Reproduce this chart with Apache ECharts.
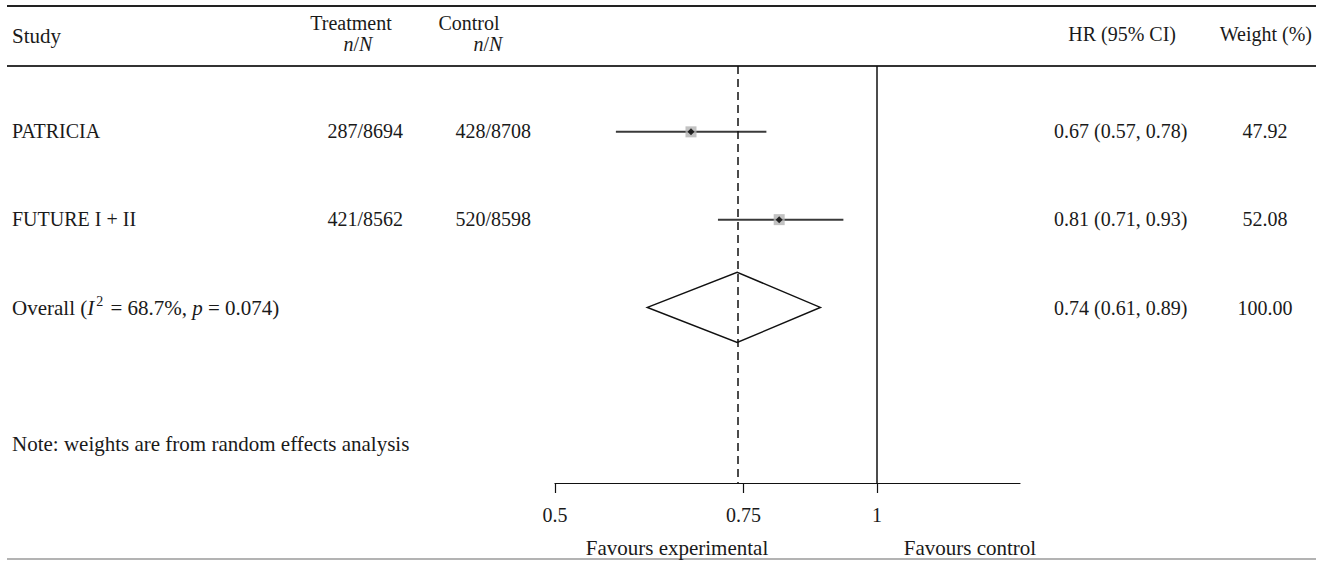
<!DOCTYPE html>
<html>
<head>
<meta charset="utf-8">
<script src="https://cdn.jsdelivr.net/npm/echarts@6/dist/echarts.min.js"></script>
<style>
html,body{margin:0;padding:0;background:#fff;}
#main{width:1324px;height:563px;}
</style>
</head>
<body>
<div id="main"></div>
<script>
// study rows
var studies = ['PATRICIA', 'FUTURE I + II'];
var treatment = ['287/8694', '421/8562'];
var control = ['428/8708', '520/8598'];
var hr = [0.67, 0.81];
var lower = [0.57, 0.71];
var upper = [0.788, 0.93];
var hrLabels = ['0.67 (0.57, 0.78)', '0.81 (0.71, 0.93)'];
var weights = ['47.92', '52.08'];
var rowPos = [1, 2];

// overall (random effects)
var overallLabel = 'Overall';
var overallStats = ['68.7%', '0.074'];
var overallHR = 0.74;
var overallLower = 0.61;
var overallUpper = 0.885;
var overallHRLabel = '0.74 (0.61, 0.89)';
var overallWeight = '100.00';
var overallPos = 3;

var xTicks = [0.5, 0.75, 1];
var xMin = 0.5, xMax = 1.36;
var nullValue = 1;

var FONT = "'Liberation Serif', 'DejaVu Serif', serif";
var FS = 20;
var FSW = 21; // word text runs a bit wider in the original
var INK = '#1a1a1a';

var dom = document.getElementById('main');
var myChart = echarts.init(dom, null, {renderer: 'svg'});

function ln(v) { return Math.log(v); }

function txt(x, y, s, align, extra) {
	var st = {text: s, x: 0, y: 0, fill: INK, fontFamily: FONT, fontSize: FS,
		align: align || 'left', verticalAlign: 'middle'};
	if (extra) { for (var k in extra) st[k] = extra[k]; }
	return {type: 'text', x: x, y: y, silent: true, style: st};
}

function hline(y, x1, x2, color, w) {
	return {type: 'line', silent: true, shape: {x1: x1, y1: y, x2: x2, y2: y},
		style: {stroke: color, lineWidth: w}};
}

var italicRich = {
	n: {fontFamily: FONT, fontSize: FS, fill: INK},
	i: {fontFamily: FONT, fontSize: FS, fill: INK, fontStyle: 'italic'}
};
var overallRich = {
	n: {fontFamily: FONT, fontSize: FSW, fill: INK},
	i: {fontFamily: FONT, fontSize: FSW, fill: INK, fontStyle: 'italic'},
	sup: {fontFamily: FONT, fontSize: 14, fill: INK, padding: [0, 2, 14, 2]}
};

var graphics = [
	hline(6, 7, 1316, '#222', 2),
	hline(66, 7, 1316, '#333', 2),
	hline(559, 7, 1316, '#9a9a9a', 1.5),
	txt(12, 36, 'Study', 'left', {fontSize: FSW}),
	txt(351, 23, 'Treatment', 'center'),
	txt(358, 44, '{i|n}{n|/}{i|N}', 'center', {rich: italicRich}),
	txt(469, 23, 'Control', 'center'),
	txt(488, 44, '{i|n}{n|/}{i|N}', 'center', {rich: italicRich}),
	txt(1176, 34, 'HR (95% CI)', 'right'),
	txt(1312, 34, 'Weight (%)', 'right'),
	txt(12, 444, 'Note: weights are from random effects analysis', 'left', {fontSize: FSW}),
	txt(677, 548, 'Favours experimental', 'center', {fontSize: FSW}),
	txt(970, 548, 'Favours control', 'center', {fontSize: FSW})
];

var rowY = [131, 219];
for (var i = 0; i < studies.length; i++) {
	graphics.push(txt(12, rowY[i], studies[i]));
	graphics.push(txt(403, rowY[i], treatment[i], 'right'));
	graphics.push(txt(531, rowY[i], control[i], 'right'));
	graphics.push(txt(1054, rowY[i], hrLabels[i]));
	graphics.push(txt(1265, rowY[i], weights[i], 'center'));
}
graphics.push(txt(12, 308, '{n|' + overallLabel + ' (}{i|I}{sup|2}{n| = ' + overallStats[0] + ', }{i|p}{n| = ' + overallStats[1] + ')}', 'left', {rich: overallRich}));
graphics.push(txt(1054, 308, overallHRLabel));
graphics.push(txt(1265, 308, overallWeight, 'center'));

var ciData = [];
var pointData = [];
for (var j = 0; j < studies.length; j++) {
	ciData.push([ln(lower[j]), ln(upper[j]), rowPos[j]]);
	pointData.push([ln(hr[j]), rowPos[j]]);
}
var diamondData = [[ln(overallLower), ln(overallHR), ln(overallUpper), overallPos]];

var option = {
	animation: false,
	backgroundColor: '#fff',
	graphic: graphics,
	grid: {left: 555, right: 304, top: 66, bottom: 80},
	xAxis: {
		type: 'value',
		min: ln(xMin),
		max: ln(xMax),
		axisLine: {show: true, lineStyle: {color: '#111', width: 1.2}},
		axisTick: {show: true, length: 10, lineStyle: {color: '#111', width: 1.2},
			customValues: xTicks.map(ln)},
		axisLabel: {show: true, margin: 22, color: INK, fontFamily: FONT, fontSize: FS,
			customValues: xTicks.map(ln),
			formatter: function (v) { return String(Number(Math.exp(v).toFixed(2))); }},
		splitLine: {show: false}
	},
	yAxis: {
		type: 'value',
		inverse: true,
		min: 0.25,
		max: 5,
		show: false
	},
	series: [
		{
			type: 'custom',
			name: 'ci',
			encode: {x: [0, 1], y: 2},
			data: ciData,
			renderItem: function (params, api) {
				var a = api.coord([api.value(0), api.value(2)]);
				var b = api.coord([api.value(1), api.value(2)]);
				return {type: 'line', shape: {x1: a[0], y1: a[1], x2: b[0], y2: b[1]},
					style: {stroke: '#3a3a3a', lineWidth: 2}};
			},
			z: 2
		},
		{
			type: 'scatter',
			name: 'weight box',
			symbol: 'rect',
			symbolSize: 11,
			itemStyle: {color: '#b3b3b3'},
			data: pointData,
			z: 3,
			markLine: {
				silent: true,
				symbol: ['none', 'none'],
				label: {show: false},
				data: [
					{xAxis: ln(overallHR), lineStyle: {color: '#111', width: 1.5, type: [8, 5]}},
					{xAxis: ln(nullValue), lineStyle: {color: '#111', width: 1.5, type: 'solid'}}
				]
			}
		},
		{
			type: 'scatter',
			name: 'estimate',
			symbol: 'diamond',
			symbolSize: 7,
			itemStyle: {color: '#000'},
			data: pointData,
			z: 4
		},
		{
			type: 'custom',
			name: 'overall',
			encode: {x: [0, 1, 2], y: 3},
			data: diamondData,
			renderItem: function (params, api) {
				var y = api.value(3);
				var l = api.coord([api.value(0), y]);
				var t = api.coord([api.value(1), y - 0.4]);
				var r = api.coord([api.value(2), y]);
				var b = api.coord([api.value(1), y + 0.4]);
				return {type: 'polygon', shape: {points: [l, t, r, b]},
					style: {fill: 'none', stroke: '#111', lineWidth: 1.5}};
			},
			z: 5
		}
	]
};

if (option && typeof option === "object") {
	myChart.setOption(option, true);
}
</script>
</body>
</html>
